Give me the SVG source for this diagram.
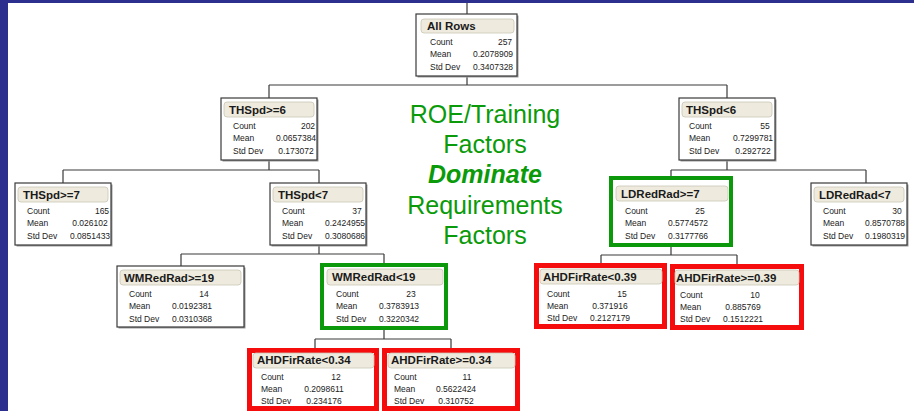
<svg xmlns="http://www.w3.org/2000/svg" width="914" height="411" viewBox="0 0 914 411">
<style>
.bg{fill:#ffffff}
.band{fill:#2d2f8e}
.box{fill:#ffffff;stroke:#3a3a3a;stroke-width:1.2}
.shadow{fill:#9a9a9a}
.hdr{fill:#eeebde;stroke:#c9c5b5;stroke-width:0.8}
.t{font-family:"Liberation Sans",Arial,sans-serif;font-size:11.5px;font-weight:bold;fill:#1a1a1a}
.l{font-family:"Liberation Sans",Arial,sans-serif;font-size:8.5px;fill:#222}
.v{font-family:"Liberation Sans",Arial,sans-serif;font-size:8.5px;fill:#222;text-anchor:middle}
.red{fill:#ffffff;stroke:#f50d0d;stroke-width:5}
.grn{fill:#ffffff;stroke:#0b990b;stroke-width:4}
.c{fill:none;stroke:#3a3a3a;stroke-width:1.2}
.g{font-family:"Liberation Sans",Arial,sans-serif;font-size:25px;fill:#0a9a0a;text-anchor:middle}
.gb{font-weight:bold;font-style:italic}
</style>
<rect class="bg" x="0" y="0" width="914" height="411"/>
<rect class="band" x="0" y="0" width="914" height="3"/>
<rect class="band" x="0" y="0" width="8" height="411"/>

<g id="connectors">
<path class="c" d="M467 3V14"/>
<path class="c" d="M467 76V85M269 85H727M269 85V98M727 85V98"/>
<path class="c" d="M269 160V170M63 170H319M63 170V183M319 170V183"/>
<path class="c" d="M727 160V170M671 170H866M671 170V177M866 170V183"/>
<path class="c" d="M319 245V254M181 254H384M181 254V266M384 254V264"/>
<path class="c" d="M671 247V255M601 255H737M601 255V264M737 255V265"/>
<path class="c" d="M384 330V339M315 339H451M315 339V349M451 339V349"/>
</g>

<g id="label">
<text class="g" x="485" y="123">ROE/Training</text>
<text class="g" x="485" y="153">Factors</text>
<text class="g gb" x="485" y="183">Dominate</text>
<text class="g" x="485" y="214">Requirements</text>
<text class="g" x="485" y="244">Factors</text>
</g>

<g id="n-allrows" transform="translate(416,14)">
<rect class="shadow" x="1.5" y="1.5" width="101" height="62"/>
<rect class="box" x="0" y="0" width="101" height="62"/>
<rect class="hdr" x="5" y="5" width="93" height="14" rx="3"/>
<text class="t" x="11" y="16">All Rows</text>
<text class="l" x="14" y="31">Count</text><text class="v" x="89" y="31">257</text>
<text class="l" x="14" y="43">Mean</text><text class="v" x="77" y="43">0.2078909</text>
<text class="l" x="14" y="56">Std Dev</text><text class="v" x="77" y="56">0.3407328</text>
</g>

<g id="n-thspd-ge6" transform="translate(221,98)">
<rect class="shadow" x="1.5" y="1.5" width="96" height="62"/>
<rect class="box" x="0" y="0" width="96" height="62"/>
<rect class="hdr" x="3" y="4" width="90" height="15" rx="3"/>
<text class="t" x="8" y="16">THSpd&gt;=6</text>
<text class="l" x="12" y="31">Count</text><text class="v" x="87" y="31">202</text>
<text class="l" x="12" y="43">Mean</text><text class="v" x="75" y="43">0.0657384</text>
<text class="l" x="12" y="56">Std Dev</text><text class="v" x="75" y="56">0.173072</text>
</g>

<g id="n-thspd-lt6" transform="translate(679,98)">
<rect class="shadow" x="1.5" y="1.5" width="96" height="62"/>
<rect class="box" x="0" y="0" width="96" height="62"/>
<rect class="hdr" x="3" y="4" width="90" height="15" rx="3"/>
<text class="t" x="7" y="16">THSpd&lt;6</text>
<text class="l" x="10" y="31">Count</text><text class="v" x="86" y="31">55</text>
<text class="l" x="10" y="43">Mean</text><text class="v" x="74" y="43">0.7299781</text>
<text class="l" x="10" y="56">Std Dev</text><text class="v" x="74" y="56">0.292722</text>
</g>

<g id="n-thspd-ge7" transform="translate(15,183)">
<rect class="shadow" x="1.5" y="1.5" width="96" height="62"/>
<rect class="box" x="0" y="0" width="96" height="62"/>
<rect class="hdr" x="3" y="4" width="90" height="15" rx="3"/>
<text class="t" x="8" y="16">THSpd&gt;=7</text>
<text class="l" x="12" y="31">Count</text><text class="v" x="87" y="31">165</text>
<text class="l" x="12" y="43">Mean</text><text class="v" x="75" y="43">0.026102</text>
<text class="l" x="12" y="56">Std Dev</text><text class="v" x="75" y="56">0.0851433</text>
</g>

<g id="n-thspd-lt7" transform="translate(270,183)">
<rect class="shadow" x="1.5" y="1.5" width="96" height="62"/>
<rect class="box" x="0" y="0" width="96" height="62"/>
<rect class="hdr" x="3" y="4" width="90" height="15" rx="3"/>
<text class="t" x="8" y="16">THSpd&lt;7</text>
<text class="l" x="12" y="31">Count</text><text class="v" x="87" y="31">37</text>
<text class="l" x="12" y="43">Mean</text><text class="v" x="75" y="43">0.2424955</text>
<text class="l" x="12" y="56">Std Dev</text><text class="v" x="75" y="56">0.3080686</text>
</g>

<g id="n-ldredrad-ge7" transform="translate(613,183)">
<rect class="grn" x="-2" y="-5" width="120" height="67"/>
<rect class="hdr" x="3" y="3" width="112" height="15" rx="3"/>
<text class="t" x="8" y="15">LDRedRad&gt;=7</text>
<text class="l" x="12" y="31">Count</text><text class="v" x="87" y="31">25</text>
<text class="l" x="12" y="43">Mean</text><text class="v" x="75" y="43">0.5774572</text>
<text class="l" x="12" y="56">Std Dev</text><text class="v" x="75" y="56">0.3177766</text>
</g>

<g id="n-ldredrad-lt7" transform="translate(811,183)">
<rect class="shadow" x="1.5" y="1.5" width="96" height="62"/>
<rect class="box" x="0" y="0" width="96" height="62"/>
<rect class="hdr" x="3" y="4" width="90" height="15" rx="3"/>
<text class="t" x="8" y="16">LDRedRad&lt;7</text>
<text class="l" x="12" y="31">Count</text><text class="v" x="86" y="31">30</text>
<text class="l" x="12" y="43">Mean</text><text class="v" x="74" y="43">0.8570788</text>
<text class="l" x="12" y="56">Std Dev</text><text class="v" x="74" y="56">0.1980319</text>
</g>

<g id="n-wmredrad-ge19" transform="translate(117,266)">
<rect class="shadow" x="1.5" y="1.5" width="127" height="61"/>
<rect class="box" x="0" y="0" width="127" height="61"/>
<rect class="hdr" x="3" y="4" width="121" height="15" rx="3"/>
<text class="t" x="7" y="16">WMRedRad&gt;=19</text>
<text class="l" x="12" y="31">Count</text><text class="v" x="87" y="31">14</text>
<text class="l" x="12" y="43">Mean</text><text class="v" x="75" y="43">0.0192381</text>
<text class="l" x="12" y="56">Std Dev</text><text class="v" x="75" y="56">0.0310368</text>
</g>

<g id="n-wmredrad-lt19" transform="translate(324,266)">
<rect class="grn" x="-2" y="-1" width="124" height="63"/>
<rect class="hdr" x="3" y="3" width="116" height="16" rx="3"/>
<text class="t" x="8" y="15">WMRedRad&lt;19</text>
<text class="l" x="12" y="31">Count</text><text class="v" x="87" y="31">23</text>
<text class="l" x="12" y="43">Mean</text><text class="v" x="75" y="43">0.3783913</text>
<text class="l" x="12" y="56">Std Dev</text><text class="v" x="75" y="56">0.3220342</text>
</g>

<g id="n-ahdfirrate-lt039" transform="translate(536,266)">
<rect class="red" x="0.5" y="-0.5" width="128" height="61"/>
<rect class="hdr" x="4" y="3" width="122" height="15" rx="3"/>
<text class="t" x="7" y="15">AHDFirRate&lt;0.39</text>
<text class="l" x="11" y="31">Count</text><text class="v" x="86" y="31">15</text>
<text class="l" x="11" y="43">Mean</text><text class="v" x="74" y="43">0.371916</text>
<text class="l" x="11" y="55">Std Dev</text><text class="v" x="74" y="55">0.2127179</text>
</g>

<g id="n-ahdfirrate-ge039" transform="translate(670,267)">
<rect class="red" x="2.5" y="-0.5" width="129" height="61"/>
<rect class="hdr" x="5" y="3" width="124" height="15" rx="3"/>
<text class="t" x="6" y="15">AHDFirRate&gt;=0.39</text>
<text class="l" x="10" y="31">Count</text><text class="v" x="85" y="31">10</text>
<text class="l" x="10" y="43">Mean</text><text class="v" x="73" y="43">0.885769</text>
<text class="l" x="10" y="55">Std Dev</text><text class="v" x="73" y="55">0.1512221</text>
</g>

<g id="n-ahdfirrate-lt034" transform="translate(250,350)">
<rect class="red" x="-0.5" y="0.5" width="127" height="58"/>
<rect class="hdr" x="3" y="3" width="121" height="15" rx="3"/>
<text class="t" x="7" y="14">AHDFirRate&lt;0.34</text>
<text class="l" x="11" y="30">Count</text><text class="v" x="86" y="30">12</text>
<text class="l" x="11" y="42">Mean</text><text class="v" x="74" y="42">0.2098611</text>
<text class="l" x="11" y="54">Std Dev</text><text class="v" x="74" y="54">0.234176</text>
</g>

<g id="n-ahdfirrate-ge034" transform="translate(384,350)">
<rect class="red" x="0.5" y="0.5" width="133" height="58"/>
<rect class="hdr" x="4" y="3" width="127" height="15" rx="3"/>
<text class="t" x="7" y="14">AHDFirRate&gt;=0.34</text>
<text class="l" x="10" y="30">Count</text><text class="v" x="83" y="30">11</text>
<text class="l" x="10" y="42">Mean</text><text class="v" x="72" y="42">0.5622424</text>
<text class="l" x="10" y="54">Std Dev</text><text class="v" x="72" y="54">0.310752</text>
</g>
</svg>
